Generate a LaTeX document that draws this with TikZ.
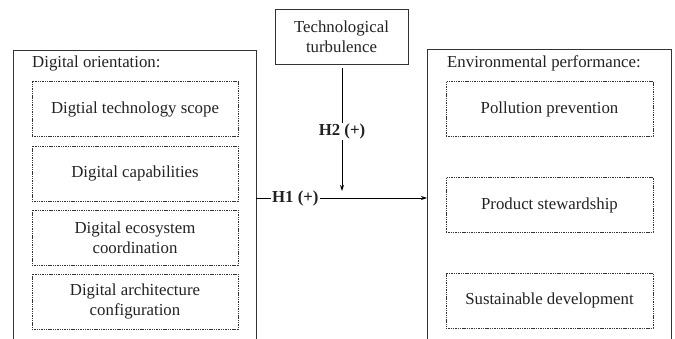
\documentclass[tikz,border=0pt]{standalone}
\usepackage{fontspec}
\setmainfont{Liberation Serif}
\usetikzlibrary{arrows.meta}
\definecolor{ink}{HTML}{222222}
\definecolor{frame}{HTML}{333333}
\begin{document}
\begin{tikzpicture}[x=1pt,y=-1pt,
  every node/.style={text=ink, font=\fontsize{16.8}{20}\selectfont},
  outerframe/.style={draw=frame, line width=0.9pt},
  dbox/.style={draw=frame, line width=0.7pt, dash pattern=on 1.4pt off 0.9pt, minimum height=55pt, inner sep=0pt, align=center},
  solidbox/.style={draw=frame, line width=0.9pt, minimum width=133pt, minimum height=55pt, inner sep=0pt, align=center},
  conn/.style={draw=black, line width=0.9pt},
  arr/.style={conn, -{Stealth[length=6pt,width=4pt]}},
  hlabel/.style={fill=white, inner sep=1pt, font=\fontsize{16.8}{20}\selectfont\bfseries}
]
\useasboundingbox (0,0) rectangle (675,339);
% outer frames (open at bottom)
\draw[outerframe] (13,339) -- (13,50) -- (256,50) -- (256,339);
\draw[outerframe] (427,339) -- (427,49) -- (671,49) -- (671,339);
\node[anchor=base west, inner sep=0pt] (dotitle) at (32,68) {Digital orientation:};
\node[anchor=base west, inner sep=0pt] (eptitle) at (447,68) {Environmental performance:};
% left dashed boxes
\node[dbox, minimum width=206pt] (d1) at (135,109) {Digtial technology scope};
\node[dbox, minimum width=206pt] (d2) at (135,173.5) {Digital capabilities};
\node[dbox, minimum width=206pt] (d3) at (135,237.5) {Digital ecosystem\\coordination};
\node[dbox, minimum width=206pt] (d4) at (135,301.5) {Digital architecture\\configuration};
% right dashed boxes
\node[dbox, minimum width=207pt] (e1) at (549.5,109) {Pollution prevention};
\node[dbox, minimum width=207pt] (e2) at (549.5,205) {Product stewardship};
\node[dbox, minimum width=207pt] (e3) at (549.5,300.5) {Sustainable development};
% moderator
\node[solidbox] (tt) at (341.5,36.5) {Technological\\turbulence};
% connectors
\coordinate (lout) at (256,198);
\coordinate (rin) at (427,198);
\coordinate (mid) at (342,191);
\draw[arr] (lout) -- node[hlabel, pos=0.23] (h1) {H1 (+)} (rin);
\draw[arr, shorten <=4pt] (tt.south -| mid) -- node[hlabel, pos=0.53] (h2) {H2 (+)} (mid);
\end{tikzpicture}
\end{document}
